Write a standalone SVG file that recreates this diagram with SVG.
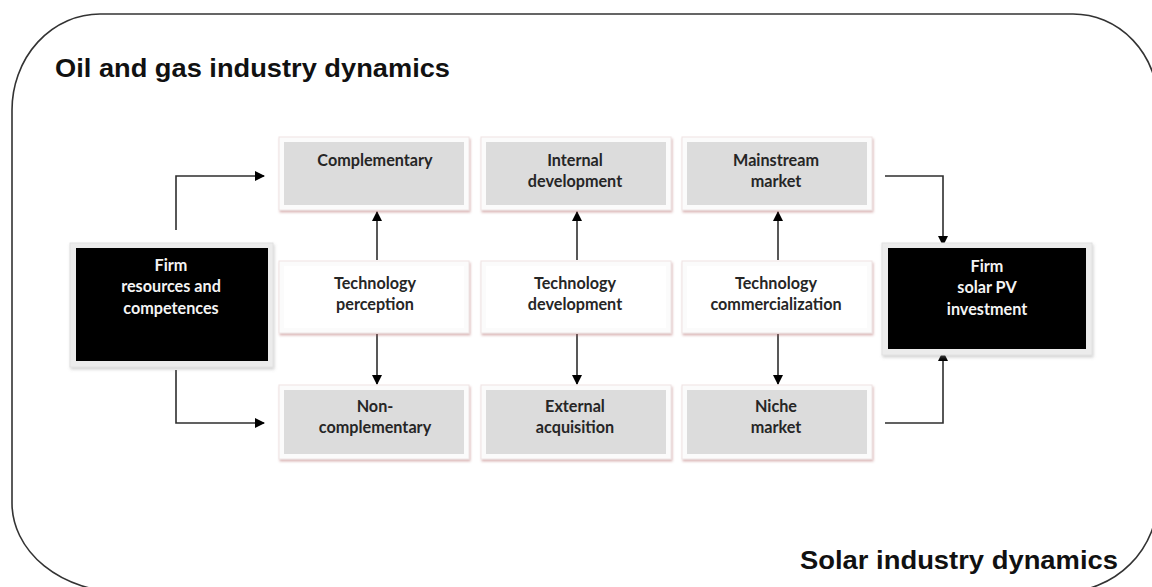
<svg xmlns="http://www.w3.org/2000/svg" width="1152" height="587" viewBox="0 0 1152 587">
<defs>
<style>
.title{font-family:"Liberation Sans",Arial,sans-serif;font-weight:bold;font-size:25px;fill:#111}
.lbl{font-family:Lato,"Open Sans",sans-serif;font-weight:bold;font-size:16.2px;fill:#262626;text-anchor:middle}
.wlbl{font-family:Lato,"Open Sans",sans-serif;font-weight:bold;font-size:16.2px;fill:#f4f4f4;text-anchor:middle}
.frame{fill:#fbfbfb;stroke:#efe4e4;stroke-width:1;filter:url(#sh)}
.gray{fill:#dcdcdc}
.white{fill:#ffffff}
.blk{fill:#000}
.bframe{fill:#ececec;stroke:#e2e2e2;stroke-width:1;filter:url(#sh2)}
.con{fill:none;stroke:#2e2e2e;stroke-width:1.6}
</style>
<filter id="sh" x="-10%" y="-10%" width="120%" height="130%">
<feDropShadow dx="1" dy="2" stdDeviation="1.2" flood-color="#b06060" flood-opacity="0.45"/>
</filter>
<filter id="sh2" x="-10%" y="-10%" width="120%" height="130%">
<feDropShadow dx="1" dy="2" stdDeviation="1.5" flood-color="#909090" flood-opacity="0.4"/>
</filter>
<marker id="ah" markerWidth="10" markerHeight="10" viewBox="0 0 10 10" refX="9" refY="5" orient="auto" markerUnits="userSpaceOnUse">
<path d="M0,0 L10,5 L0,10 Z" fill="#000"/>
</marker>
</defs>
<rect width="1152" height="587" fill="#fff"/>
<path d="M100,14 H1073 A85 90 0 0 1 1158 104 V497 A95 95 0 0 1 1063 592 H122 A110 89 0 0 1 12 503 V110 A88 96 0 0 1 100 14 Z" fill="none" stroke="#333" stroke-width="1.6"/>
<text class="title" x="55" y="77" textLength="395" lengthAdjust="spacingAndGlyphs">Oil and gas industry dynamics</text>
<text class="title" x="800" y="569" textLength="318" lengthAdjust="spacingAndGlyphs">Solar industry dynamics</text>

<g id="connectors">
<polyline class="con" points="176,230 176,176 264,176" marker-end="url(#ah)"/>
<polyline class="con" points="176,370 176,423 264,423" marker-end="url(#ah)"/>
<polyline class="con" points="885,176 943,176 943,245" marker-end="url(#ah)"/>
<polyline class="con" points="885,423 943,423 943,352" marker-end="url(#ah)"/>
<line class="con" x1="377" y1="260" x2="377" y2="212" marker-end="url(#ah)"/>
<line class="con" x1="377" y1="334" x2="377" y2="384" marker-end="url(#ah)"/>
<line class="con" x1="577" y1="260" x2="577" y2="212" marker-end="url(#ah)"/>
<line class="con" x1="577" y1="334" x2="577" y2="384" marker-end="url(#ah)"/>
<line class="con" x1="778" y1="260" x2="778" y2="212" marker-end="url(#ah)"/>
<line class="con" x1="778" y1="334" x2="778" y2="384" marker-end="url(#ah)"/>
</g>

<g id="firm-resources">
<rect class="bframe" x="70" y="243" width="203" height="124"/>
<rect class="blk" x="76" y="248" width="192" height="113"/>
<text class="wlbl" x="171" y="271">Firm</text>
<text class="wlbl" x="171" y="292">resources and</text>
<text class="wlbl" x="171" y="314">competences</text>
</g>

<g id="firm-solar">
<rect class="bframe" x="882" y="243" width="210" height="112"/>
<rect class="blk" x="888" y="248" width="198" height="101"/>
<text class="wlbl" x="987" y="272">Firm</text>
<text class="wlbl" x="987" y="293">solar PV</text>
<text class="wlbl" x="987" y="315">investment</text>
</g>

<g id="complementary">
<rect class="frame" x="279" y="137" width="190" height="73"/>
<rect class="gray" x="284" y="142" width="180" height="63"/>
<text class="lbl" x="375" y="166">Complementary</text>
</g>
<g id="internal-development">
<rect class="frame" x="481" y="137" width="190" height="73"/>
<rect class="gray" x="486" y="142" width="180" height="63"/>
<text class="lbl" x="575" y="166">Internal</text>
<text class="lbl" x="575" y="187">development</text>
</g>
<g id="mainstream-market">
<rect class="frame" x="682" y="137" width="190" height="73"/>
<rect class="gray" x="687" y="142" width="180" height="63"/>
<text class="lbl" x="776" y="166">Mainstream</text>
<text class="lbl" x="776" y="187">market</text>
</g>

<g id="technology-perception">
<rect class="frame" x="279" y="261" width="190" height="72"/>
<rect class="white" x="284" y="266" width="180" height="62"/>
<text class="lbl" x="375" y="289">Technology</text>
<text class="lbl" x="375" y="310">perception</text>
</g>
<g id="technology-development">
<rect class="frame" x="481" y="261" width="190" height="72"/>
<rect class="white" x="486" y="266" width="180" height="62"/>
<text class="lbl" x="575" y="289">Technology</text>
<text class="lbl" x="575" y="310">development</text>
</g>
<g id="technology-commercialization">
<rect class="frame" x="682" y="261" width="190" height="72"/>
<rect class="white" x="687" y="266" width="180" height="62"/>
<text class="lbl" x="776" y="289">Technology</text>
<text class="lbl" x="776" y="310">commercialization</text>
</g>

<g id="non-complementary">
<rect class="frame" x="279" y="385" width="190" height="74"/>
<rect class="gray" x="284" y="390" width="180" height="64"/>
<text class="lbl" x="375" y="412">Non-</text>
<text class="lbl" x="375" y="433">complementary</text>
</g>
<g id="external-acquisition">
<rect class="frame" x="481" y="385" width="190" height="74"/>
<rect class="gray" x="486" y="390" width="180" height="64"/>
<text class="lbl" x="575" y="412">External</text>
<text class="lbl" x="575" y="433">acquisition</text>
</g>
<g id="niche-market">
<rect class="frame" x="682" y="385" width="190" height="74"/>
<rect class="gray" x="687" y="390" width="180" height="64"/>
<text class="lbl" x="776" y="412">Niche</text>
<text class="lbl" x="776" y="433">market</text>
</g>
</svg>
